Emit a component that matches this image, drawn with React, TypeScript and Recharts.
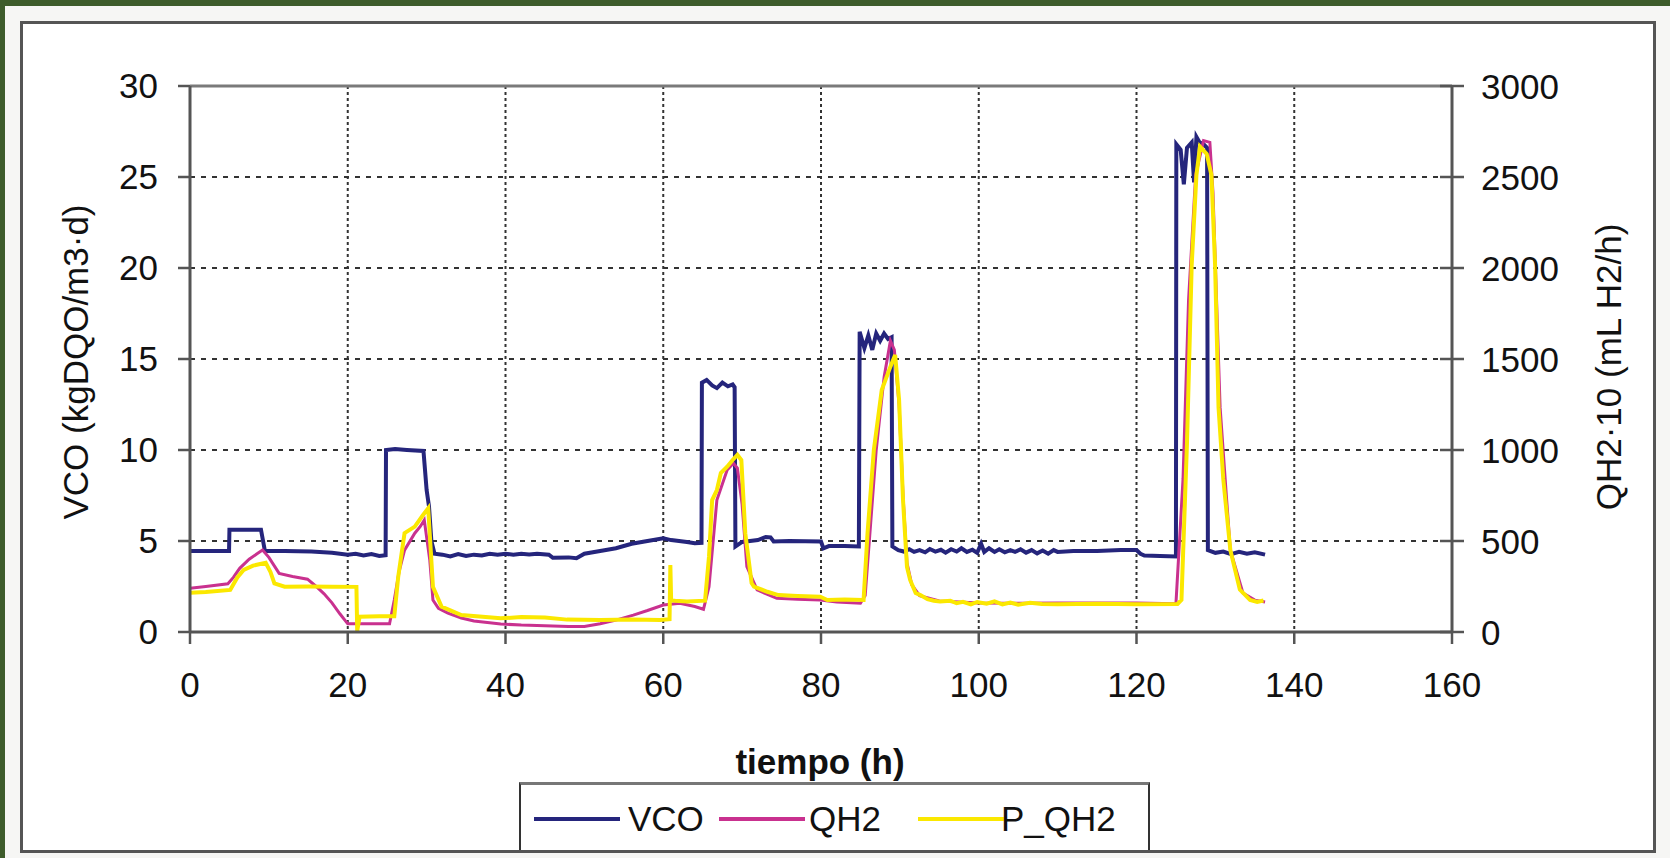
import {
  LineChart,
  Line,
  XAxis,
  YAxis,
  CartesianGrid,
  ReferenceLine,
  Label,
} from "recharts";

// tiempo (h) ticks and axis ticks
const xTicks = [0, 20, 40, 60, 80, 100, 120, 140, 160];
const vcoTicks = [0, 5, 10, 15, 20, 25, 30];
const qh2Ticks = [0, 500, 1000, 1500, 2000, 2500, 3000];

// VCO (kgDQO/m3·d) : [tiempo, valor]
const vco: [number, number][] = [
  [0, 4.45], [4.95, 4.45], [5.0, 5.62], [9.0, 5.62], [9.5, 4.45], [12, 4.45],
  [15.4, 4.42], [18, 4.35], [20, 4.25], [21, 4.3], [22, 4.2], [23, 4.28],
  [24, 4.18], [24.8, 4.22], [24.85, 10.0], [26, 10.05], [27.5, 10.0], [29.6, 9.95],
  [30.0, 7.8], [30.3, 6.9], [30.6, 5.0], [31.0, 4.3], [32, 4.25], [33, 4.15],
  [34, 4.28], [35, 4.18], [36, 4.25], [37, 4.2], [38, 4.3], [39, 4.25], [40, 4.3],
  [41, 4.24], [42, 4.3], [43, 4.26], [44, 4.3], [45.5, 4.25], [46, 4.08], [48, 4.1],
  [49, 4.05], [50, 4.3], [52, 4.45], [54, 4.6], [56, 4.85], [58, 5.0], [60, 5.15],
  [61, 5.05], [62, 5.0], [63, 4.95], [64, 4.88], [64.85, 4.9], [64.9, 13.7],
  [65.5, 13.85], [66.2, 13.55], [66.8, 13.4], [67.5, 13.7], [68.2, 13.5], [68.8, 13.6],
  [69.05, 13.45], [69.15, 4.7], [70, 4.95], [71, 5.0], [72, 5.05], [73, 5.22],
  [73.6, 5.2], [74, 4.97], [76, 5.0], [78, 4.98], [80, 4.97], [80.3, 4.6], [81, 4.72],
  [83, 4.72], [84.8, 4.7], [84.9, 16.5], [85.5, 15.6], [86, 16.3], [86.5, 15.5],
  [87, 16.4], [87.5, 16.0], [88, 16.4], [88.5, 16.1], [88.95, 16.2], [89.05, 4.7],
  [89.8, 4.5], [90.5, 4.42], [91.2, 4.55], [91.8, 4.4], [92.5, 4.5], [93.2, 4.38],
  [93.8, 4.56], [94.5, 4.42], [95.2, 4.52], [95.8, 4.36], [96.5, 4.55], [97.2, 4.42],
  [97.8, 4.6], [98.5, 4.4], [99.2, 4.52], [99.8, 4.35], [100.3, 4.85], [100.7, 4.4],
  [101.3, 4.6], [102, 4.4], [102.6, 4.55], [103.3, 4.38], [104, 4.5], [104.6, 4.4],
  [105.3, 4.55], [106, 4.36], [106.7, 4.5], [107.4, 4.32], [108.1, 4.48], [108.8, 4.3],
  [109.5, 4.5], [110, 4.4], [112, 4.45], [115, 4.45], [118, 4.5], [120, 4.5],
  [120.5, 4.3], [121, 4.2], [123, 4.18], [125, 4.15], [125.05, 26.8], [125.6, 26.5],
  [126, 24.6], [126.4, 26.6], [127, 26.9], [127.3, 24.7], [127.6, 27.2], [128, 26.9],
  [128.5, 26.8], [128.95, 26.6], [129.05, 4.5], [130, 4.35], [131, 4.42], [132, 4.28],
  [133, 4.4], [134, 4.3], [135, 4.38], [136.3, 4.25],
];

// QH2 (mL H2/h ·10)
const qh2: [number, number][] = [
  [0, 240], [2, 250], [4.8, 265], [5.5, 300], [6.3, 350], [7.5, 400], [8.5, 430],
  [9.2, 450], [10, 410], [11.3, 322], [13, 305], [14.9, 290], [16, 250], [17, 210],
  [18, 160], [19, 100], [20, 45], [22, 45], [24, 45], [25.3, 45], [25.9, 176],
  [26.5, 330], [27.2, 450], [28.5, 543], [29.2, 580], [29.7, 615], [30.4, 395],
  [30.8, 176], [31.5, 130], [32.7, 104], [34.4, 77], [36, 60], [39.4, 44], [42, 38],
  [45, 35], [48, 30], [50, 30], [52, 45], [54, 65], [56.2, 93], [58, 118], [60, 148],
  [62.1, 158], [64, 140], [65.1, 125], [65.8, 249], [66.8, 725], [68.1, 890],
  [68.9, 927], [69.4, 900], [70, 700], [70.6, 359], [71.9, 231], [74.4, 185], [77, 180],
  [79.9, 176], [82, 165], [85, 158], [85.6, 200], [86.3, 600], [87, 1000], [88, 1400],
  [88.8, 1600], [89.3, 1550], [89.9, 1250], [90.4, 750], [90.9, 380], [91.5, 260],
  [92.5, 200], [95, 170], [100, 160], [105, 158], [110, 160], [115, 160], [120, 160],
  [125, 155], [125.9, 841], [126.6, 1824], [127.5, 2511], [128.5, 2700], [129.3, 2690],
  [129.7, 2412], [130.6, 1234], [131.4, 743], [131.9, 450], [133.5, 214], [135, 175],
  [136.3, 165],
];

// P_QH2
const pqh2: [number, number][] = [
  [0, 216], [2, 220], [5.1, 231], [6.0, 300], [6.8, 341], [8, 365], [9.6, 380],
  [10.2, 330], [10.7, 267], [12, 249], [15, 250], [18, 249], [21.1, 248], [21.2, 5],
  [21.5, 84], [24, 86], [25.9, 86], [26.4, 304], [27.2, 543], [28.5, 579], [29.5, 640],
  [30.2, 680], [30.8, 249], [31.9, 139], [34.4, 93], [39.4, 75], [42, 82], [45, 80],
  [47.8, 68], [52, 66], [56, 68], [59.6, 66], [60.8, 70], [60.9, 368], [61.0, 176],
  [61.5, 172], [63, 168], [65.3, 172], [65.8, 414], [66.2, 725], [66.8, 780],
  [67.3, 873], [68.1, 908], [68.8, 945], [69.4, 973], [69.9, 945], [70.4, 543],
  [71.2, 269], [71.5, 249], [73.2, 221], [74.6, 203], [77, 198], [79.9, 194],
  [80.8, 176], [83, 178], [85.4, 176], [85.9, 543], [86.7, 1000], [87.7, 1330],
  [88.8, 1458], [89.4, 1522], [89.9, 1275], [90.4, 725], [90.9, 357], [91.3, 286],
  [92, 214], [92.6, 203], [93.5, 180], [94.3, 172], [95.1, 167], [96.4, 172],
  [97.2, 158], [98, 166], [99, 152], [99.8, 165], [101, 155], [102, 168], [103, 152],
  [104, 162], [105, 150], [106.5, 160], [108, 154], [110, 152], [115, 155], [120, 152],
  [125.2, 154], [125.7, 176], [126.4, 1038], [127.0, 2019], [127.6, 2511],
  [128.05, 2667], [128.9, 2627], [129.5, 2511], [129.96, 2019], [130.4, 1234],
  [131, 841], [131.9, 450], [133.1, 233], [134.4, 176], [135.3, 165], [136.1, 173],
];

const vcoRows = vco.map(([t, v]) => ({ t, vco: v }));
const qh2Rows = qh2.map(([t, v]) => ({ t, qh2: v }));
const pqh2Rows = pqh2.map(([t, v]) => ({ t, pqh2: v }));

const FONT = "'Liberation Sans', Arial, sans-serif";
const FS = 35;
const AXIS = "#555";
const TEXT = "#111";
const C_VCO = "#25257c";
const C_QH2 = "#c9318f";
const C_PQH2 = "#fbe800";

const RightTick = (props: any) => {
  const { y, payload } = props;
  return (
    <g>
      <line x1={1440} x2={1464} y1={y} y2={y} stroke={AXIS} strokeWidth={2.5} />
      <text
        x={1481}
        y={y}
        dy="0.36em"
        textAnchor="start"
        fontSize={FS}
        fontFamily={FONT}
        fill={TEXT}
      >
        {payload.value}
      </text>
    </g>
  );
};

const LeftTitle = () => (
  <text
    x={75}
    y={362}
    transform="rotate(-90, 75, 362)"
    textAnchor="middle"
    dominantBaseline="central"
    fontSize={FS}
    fontFamily={FONT}
    fill={TEXT}
  >
    VCO (kgDQO/m3·d)
  </text>
);

const RightTitle = () => (
  <text
    x={1608}
    y={367}
    transform="rotate(-90, 1608, 367)"
    textAnchor="middle"
    dominantBaseline="central"
    fontSize={FS}
    fontFamily={FONT}
    fill={TEXT}
  >
    QH2·10 (mL H2/h)
  </text>
);

const XTitle = () => (
  <text
    x={820}
    y={761}
    textAnchor="middle"
    dominantBaseline="central"
    fontSize={FS}
    fontWeight="bold"
    fontFamily={FONT}
    fill={TEXT}
  >
    tiempo (h)
  </text>
);

const legendItems = [
  { name: "VCO", color: C_VCO, lineX: 13, textX: 107 },
  { name: "QH2", color: C_QH2, lineX: 198, textX: 288 },
  { name: "P_QH2", color: C_PQH2, lineX: 397, textX: 480 },
];

export default function App() {
  return (
    <div
      style={{
        position: "absolute",
        left: 0,
        top: 0,
        width: 1670,
        height: 858,
        background: "#3e5c2b",
        overflow: "hidden",
      }}
    >
      <div
        style={{
          position: "absolute",
          left: 5,
          top: 6,
          width: 1665,
          height: 852,
          background: "#f6f6f4",
        }}
      />
      <div
        style={{
          position: "absolute",
          left: 20,
          top: 21,
          width: 1630,
          height: 826,
          border: "3px solid #555",
          background: "#fff",
        }}
      />
      <div style={{ position: "absolute", left: 0, top: 0 }}>
        <LineChart
          width={1670}
          height={858}
          margin={{ top: 86, left: 90, right: 118, bottom: 166 }}
        >
          <CartesianGrid
            yAxisId="left"
            vertical={false}
            stroke="#333"
            strokeWidth={2}
            strokeDasharray="5 6"
          />
          <CartesianGrid
            yAxisId="left"
            horizontal={false}
            stroke="#333"
            strokeWidth={2}
            strokeDasharray="3 3"
          />
          <XAxis
            dataKey="t"
            type="number"
            domain={[0, 160]}
            ticks={xTicks}
            allowDataOverflow
            height={60}
            tickSize={12}
            tickMargin={28}
            stroke={AXIS}
            axisLine={{ stroke: AXIS, strokeWidth: 3 }}
            tickLine={{ stroke: AXIS, strokeWidth: 2.5 }}
            tick={{ fontSize: FS, fill: TEXT, fontFamily: FONT }}
          >
            <Label content={XTitle} />
          </XAxis>
          <YAxis
            yAxisId="left"
            orientation="left"
            domain={[0, 30]}
            ticks={vcoTicks}
            allowDataOverflow
            width={100}
            tickSize={12}
            tickMargin={20}
            axisLine={{ stroke: AXIS, strokeWidth: 3 }}
            tickLine={{ stroke: AXIS, strokeWidth: 2.5 }}
            tick={{ fontSize: FS, fill: TEXT, fontFamily: FONT }}
          >
            <Label content={LeftTitle} />
          </YAxis>
          <YAxis
            yAxisId="right"
            orientation="right"
            domain={[0, 3000]}
            ticks={qh2Ticks}
            allowDataOverflow
            width={100}
            tickLine={false}
            axisLine={{ stroke: AXIS, strokeWidth: 3 }}
            tick={RightTick}
          >
            <Label content={RightTitle} />
          </YAxis>
          <ReferenceLine yAxisId="left" y={30} stroke="#7a7a7a" strokeWidth={3} />
          <Line
            data={vcoRows}
            dataKey="vco"
            yAxisId="left"
            type="linear"
            dot={false}
            stroke={C_VCO}
            strokeWidth={4}
            isAnimationActive={false}
          />
          <Line
            data={qh2Rows}
            dataKey="qh2"
            yAxisId="right"
            type="linear"
            dot={false}
            stroke={C_QH2}
            strokeWidth={3}
            isAnimationActive={false}
          />
          <Line
            data={pqh2Rows}
            dataKey="pqh2"
            yAxisId="right"
            type="linear"
            dot={false}
            stroke={C_PQH2}
            strokeWidth={4}
            isAnimationActive={false}
          />
        </LineChart>
      </div>
      <div
        style={{
          position: "absolute",
          left: 519,
          top: 782,
          width: 627,
          height: 65,
          borderTop: "3px solid #777",
          borderLeft: "2px solid #333",
          borderRight: "2px solid #333",
          background: "#fff",
          fontFamily: FONT,
          fontSize: FS,
          color: TEXT,
        }}
      >
        {legendItems.map((it) => (
          <div key={it.name}>
            <div
              style={{
                position: "absolute",
                left: it.lineX,
                top: 32,
                width: 86,
                height: 4,
                background: it.color,
              }}
            />
            <div
              style={{
                position: "absolute",
                left: it.textX,
                top: 14,
                lineHeight: "40px",
              }}
            >
              {it.name}
            </div>
          </div>
        ))}
      </div>
    </div>
  );
}
